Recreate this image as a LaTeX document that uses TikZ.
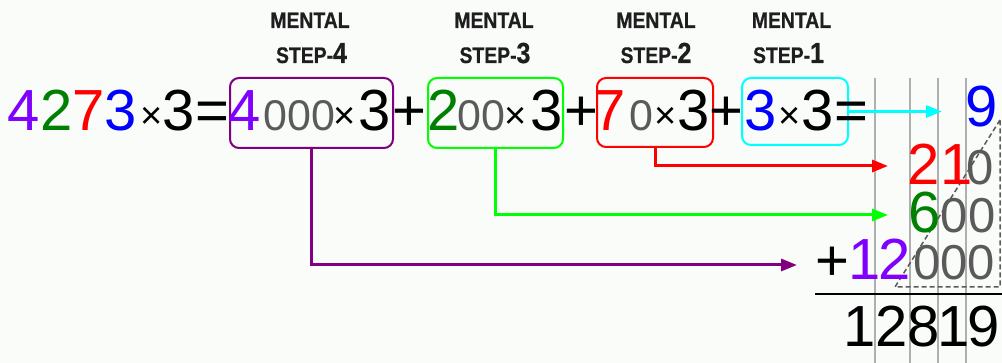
\documentclass[tikz,border=0pt]{standalone}
\usepackage{fontspec}
\setmainfont{Liberation Sans}
\newfontfamily\hdfont[FakeStretch=0.86,FakeBold=0.6]{Liberation Sans Bold}
\usetikzlibrary{arrows.meta}
\definecolor{dpurple}{RGB}{127,0,255}
\definecolor{bpurple}{RGB}{128,0,128}
\definecolor{dgreen}{RGB}{0,128,0}
\definecolor{lgreen}{RGB}{0,255,0}
\definecolor{ccyan}{RGB}{0,255,255}
\definecolor{zgray}{RGB}{90,90,90}
\definecolor{hdgray}{RGB}{30,30,30}
\definecolor{lgray}{RGB}{175,175,175}
\definecolor{dgray}{RGB}{90,90,90}
\definecolor{bgc}{RGB}{250,252,250}
\newcommand\FS[1]{\fontsize{#1}{#1}\selectfont}
\begin{document}
\begin{tikzpicture}[x=1pt,y=-1pt,
  dig/.style={anchor=base,inner sep=0pt,font={\FS{58}}},
  zer/.style={anchor=base,inner sep=0pt,font={\FS{43}},text=zgray},
  rz/.style={anchor=base,inner sep=0pt,font={\FS{49}},text=zgray},
  mul/.style={anchor=base,inner sep=0pt,font={\FS{38}}},
  hd/.style={anchor=base,inner sep=0pt,font={\hdfont\FS{22.5}},text=hdgray},
  box/.style={draw,line width=2pt,rounded corners=9pt,inner sep=0pt,fill=none},
  arr/.style={line width=3pt,-{Triangle[length=16pt,width=12pt]}},
  colline/.style={draw=lgray,line width=1.5pt},
  dashline/.style={draw=dgray,line width=1.5pt,dash pattern=on 5pt off 3pt}]
\fill[bgc] (0,0) rectangle (1002,363);
\useasboundingbox (0,0) rectangle (1002,363);

% column guide lines
\draw[colline] (875,78) -- (875,363);
\draw[colline] (910,78) -- (910,363);
\draw[colline] (938,78) -- (938,363);
\draw[colline] (966,78) -- (966,363);

% dashed triangle of trailing zeros
\draw[dashline] (1000,120) -- (895,287) -- (1000,287) -- cycle;

% sum line
\draw[line width=2pt] (815,294) -- (1002,294);

% boxes
\node[box,draw=bpurple,minimum width=163pt,minimum height=70pt] (b4) at (311.5,113) {};
\node[box,draw=lgreen,minimum width=135pt,minimum height=70pt] (b3) at (495.5,113) {};
\node[box,draw=red,minimum width=116pt,minimum height=69pt] (b2) at (655,112.5) {};
\node[box,draw=ccyan,minimum width=106pt,minimum height=67pt] (b1) at (795,111.5) {};

% arrow targets
\coordinate (t1) at (942,111.5);
\coordinate (t2) at (888,166);
\coordinate (t3) at (888,215);
\coordinate (t4) at (797,265);

\draw[arr,ccyan] (b1.east) -- (t1);
\draw[arr,red] (b2.south) |- (t2);
\draw[arr,lgreen] (b3.south) |- (t3);
\draw[arr,bpurple] (b4.south) |- (t4);

% headings
\node[hd] (h4a) at (310,28) {MENTAL};
\node[hd] (h4b) at (311.5,63) {STEP-{\FS{29}4}};
\node[hd] (h3a) at (494,28) {MENTAL};
\node[hd] (h3b) at (495,63) {STEP-{\FS{29}3}};
\node[hd] (h2a) at (656,28) {MENTAL};
\node[hd] (h2b) at (656,63) {STEP-{\FS{29}2}};
\node[hd] (h1a) at (791.5,28) {MENTAL};
\node[hd] (h1b) at (788.5,63) {STEP-{\FS{29}1}};

% top equation
\node[dig] (n4273) at (72.5,131) {\textcolor{dpurple}{4}\textcolor{dgreen}{2}\textcolor{red}{7}\textcolor{blue}{3}};
\node[mul] (m0) at (151.5,129) {×};
\node[dig] (a3) at (179,131) {3};
\node[dig] (eq1) at (212.5,131) {=};
\node[dig,text=dpurple] (d4) at (245,131) {4};
\node[zer] (z4) at (299.5,131) {000};
\node[mul] (m4) at (345,129) {×};
\node[dig] (c4) at (375,131) {3};
\node[dig] (p1) at (409,131) {+};
\node[dig,text=dgreen] (d3) at (443.5,131) {2};
\node[zer] (z3) at (481.5,131) {00};
\node[mul] (m3) at (516,129) {×};
\node[dig] (c3) at (547,131) {3};
\node[dig] (p2) at (581,131) {+};
\node[dig,text=red] (d2) at (610,131) {7};
\node[zer] (z2) at (641,131) {0};
\node[mul] (m2) at (666,129) {×};
\node[dig] (c2) at (694,131) {3};
\node[dig] (p3) at (726.5,131) {+};
\node[dig,text=blue] (d1) at (761,131) {3};
\node[mul] (m1) at (790,129) {×};
\node[dig] (c1) at (817.5,131) {3};
\node[dig] (eq2) at (851.5,131) {=};

% column addition
\node[dig,text=blue] (r1) at (982,127) {9};
\node[dig,text=red] (r2a) at (923.5,185) {2};
\node[dig,text=red] (r2b) at (956.5,185) {1};
\node[rz] (r2c) at (980.5,185) {0};
\node[dig,text=dgreen] (r3a) at (924.5,233) {6};
\node[rz] (r3b) at (968,233) {00};
\node[dig] (r4p) at (832.5,281) {+};
\node[dig,text=dpurple] (r4a) at (864.5,280) {1};
\node[dig,text=dpurple] (r4b) at (895,280) {2};
\node[rz] (r4c) at (954,280) {000};
\node[dig] (s1) at (859.5,347) {1};
\node[dig] (s2) at (892,347) {2};
\node[dig] (s3) at (923.5,347) {8};
\node[dig] (s4) at (953.5,347) {1};
\node[dig] (s5) at (983.5,347) {9};
\end{tikzpicture}
\end{document}
